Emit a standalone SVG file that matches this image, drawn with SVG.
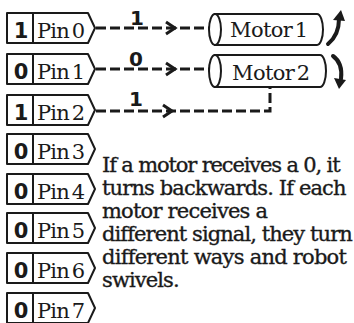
<svg xmlns="http://www.w3.org/2000/svg" width="354" height="323" viewBox="0 0 354 323">
<style>
.box{fill:#fff;stroke:#1a1a1a;stroke-width:2;stroke-linejoin:round}
.div{stroke:#1a1a1a;stroke-width:2}
.dig{font-family:"DejaVu Sans",sans-serif;font-weight:bold;font-size:21px;fill:#1a1a1a;text-anchor:middle}
.pin{font-family:"DejaVu Serif",serif;font-size:21px;fill:#1a1a1a;letter-spacing:-0.8px;word-spacing:-3px}
.lbl{font-family:"DejaVu Sans",sans-serif;font-weight:bold;font-size:20px;fill:#1a1a1a;text-anchor:middle}
.dash{fill:none;stroke:#1a1a1a;stroke-width:3;stroke-dasharray:10 4}
.chev{fill:none;stroke:#1a1a1a;stroke-width:3;stroke-linejoin:miter}
.cyl{fill:#fff;stroke:#1a1a1a;stroke-width:2}
.mt{font-family:"DejaVu Serif",serif;font-size:21px;fill:#1a1a1a;letter-spacing:-0.6px;word-spacing:-3.5px}
.rot{fill:none;stroke:#1a1a1a;stroke-width:4;stroke-linecap:round}
.head{fill:#1a1a1a}
.body{font-family:"DejaVu Serif",serif;font-size:21px;fill:#1a1a1a;stroke:#1a1a1a;stroke-width:0.35px}
</style>
<defs>
<g id="pinbox">
<path class="box" d="M7,0 H88 L95,15 L88,30 H7 Z"/>
<line class="div" x1="33" y1="0" x2="33" y2="30"/>
</g>
</defs>
<g id="pin0" transform="translate(0,13)"><use href="#pinbox"/><text class="dig" x="21" y="25">1</text><text class="pin" x="37" y="25">Pin 0</text></g>
<g id="pin1" transform="translate(0,54)"><use href="#pinbox"/><text class="dig" x="21" y="25">0</text><text class="pin" x="37" y="25">Pin 1</text></g>
<g id="pin2" transform="translate(0,95)"><use href="#pinbox"/><text class="dig" x="21" y="25">1</text><text class="pin" x="37" y="25">Pin 2</text></g>
<g id="pin3" transform="translate(0,134)"><use href="#pinbox"/><text class="dig" x="21" y="25">0</text><text class="pin" x="37" y="25">Pin 3</text></g>
<g id="pin4" transform="translate(0,174)"><use href="#pinbox"/><text class="dig" x="21" y="25">0</text><text class="pin" x="37" y="25">Pin 4</text></g>
<g id="pin5" transform="translate(0,213)"><use href="#pinbox"/><text class="dig" x="21" y="25">0</text><text class="pin" x="37" y="25">Pin 5</text></g>
<g id="pin6" transform="translate(0,253)"><use href="#pinbox"/><text class="dig" x="21" y="25">0</text><text class="pin" x="37" y="25">Pin 6</text></g>
<g id="pin7" transform="translate(0,293)"><use href="#pinbox"/><text class="dig" x="21" y="25">0</text><text class="pin" x="37" y="25">Pin 7</text></g>

<g id="motor1">
<path class="cyl" d="M215,14 H317 A6,15.5 0 0 1 317,45 H215 Z"/>
<ellipse class="cyl" cx="215" cy="29.5" rx="6" ry="15.5"/>
<text class="mt" x="230" y="37">Motor 1</text>
<path class="rot" d="M328,44 Q339,35 339,19"/>
<polygon class="head" points="341,10 333,20 345,21"/>
</g>
<g id="motor2">
<path class="cyl" d="M215,55 H320 A6,16 0 0 1 320,87 H215 Z"/>
<ellipse class="cyl" cx="215" cy="71" rx="6" ry="16"/>
<text class="mt" x="232" y="80">Motor 2</text>
<path class="rot" d="M333,56 Q343,63 341,79"/>
<polygon class="head" points="339,89 334,78 346,80"/>
</g>

<g id="connectors">
<path class="dash" d="M96,28 H209"/>
<polyline class="chev" points="166,22 175,28 166,34"/>
<text class="lbl" x="137" y="25">1</text>
<path class="dash" d="M96,69 H209"/>
<polyline class="chev" points="166,63 175,69 166,75"/>
<text class="lbl" x="136" y="66">0</text>
<path class="dash" d="M96,111 H270 V87"/>
<polyline class="chev" points="163,105 172,111 163,117"/>
<text class="lbl" x="136" y="106">1</text>
</g>

<g id="caption">
<text class="body" x="102" y="172" letter-spacing="-1.15">If a motor receives a 0, it</text>
<text class="body" x="102" y="195" letter-spacing="-0.87">turns backwards. If each</text>
<text class="body" x="102" y="218" letter-spacing="-0.8">motor receives a</text>
<text class="body" x="102" y="241" letter-spacing="-0.92">different signal, they turn</text>
<text class="body" x="102" y="264" letter-spacing="-0.76">different ways and robot</text>
<text class="body" x="102" y="287" letter-spacing="-0.9">swivels.</text>
</g>
</svg>
